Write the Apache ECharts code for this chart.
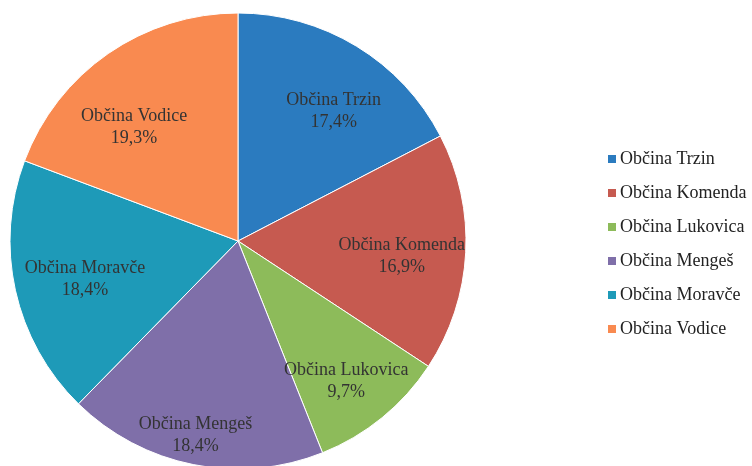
<!DOCTYPE html>
<html>
<head>
<meta charset="utf-8">
<script src="https://cdn.jsdelivr.net/npm/echarts@6/dist/echarts.min.js"></script>
<style>
  html, body { margin: 0; padding: 0; background: #fff; }
  #chart { width: 752px; height: 466px; }
</style>
</head>
<body>
<div id="chart"></div>
<script>
var names = ['Občina Trzin', 'Občina Komenda', 'Občina Lukovica', 'Občina Mengeš', 'Občina Moravče', 'Občina Vodice'];
var shares = [17.4, 16.9, 9.7, 18.4, 18.4, 19.3];
var colors = ['#2B7BBF', '#C65A50', '#8DBB5A', '#7F6FA9', '#1E9AB8', '#F98A50'];

// small nudges so labels sit where the original put them
var labelShift = [[10, 11], [-1, 7], [4, 12], [-10, 32], [8, 3], [-10, 22]];

var font = '"Liberation Serif", "DejaVu Serif", serif';

var pieData = names.map(function (n, i) {
  return { name: n, value: shares[i], itemStyle: { color: colors[i] } };
});
var labelData = names.map(function (n, i) {
  return {
    name: n, value: shares[i],
    label: { offset: labelShift[i] }
  };
});

var myChart = echarts.init(document.getElementById('chart'));
var option = {
  animation: false,
  legend: {
    orient: 'vertical',
    left: 601,
    top: 145,
    itemWidth: 10,
    itemHeight: 10,
    itemGap: 16,
    icon: 'rect',
    data: names,
    textStyle: { fontFamily: font, fontSize: 18, color: '#222', padding: [0, 0, 0, -2] }
  },
  series: [
    {
      name: 'main',
      type: 'pie',
      center: [238, 241],
      radius: [0, 228],
      startAngle: 90,
      clockwise: true,
      silent: true,
      label: { show: false },
      labelLine: { show: false },
      itemStyle: { borderColor: '#fff', borderWidth: 1 },
      data: pieData
    },
    {
      name: 'labels',
      type: 'pie',
      center: [238, 241],
      radius: [100, 224],
      startAngle: 90,
      clockwise: true,
      silent: true,
      itemStyle: { color: 'rgba(0,0,0,0)' },
      labelLine: { show: false },
      label: {
        show: true,
        position: 'inside',
        fontFamily: font,
        fontSize: 18,
        lineHeight: 22,
        color: '#333',
        formatter: function (p) {
          return p.name + '\n' + String(p.value).replace('.', ',') + '%';
        }
      },
      data: labelData
    }
  ]
};
myChart.setOption(option);
</script>
</body>
</html>
